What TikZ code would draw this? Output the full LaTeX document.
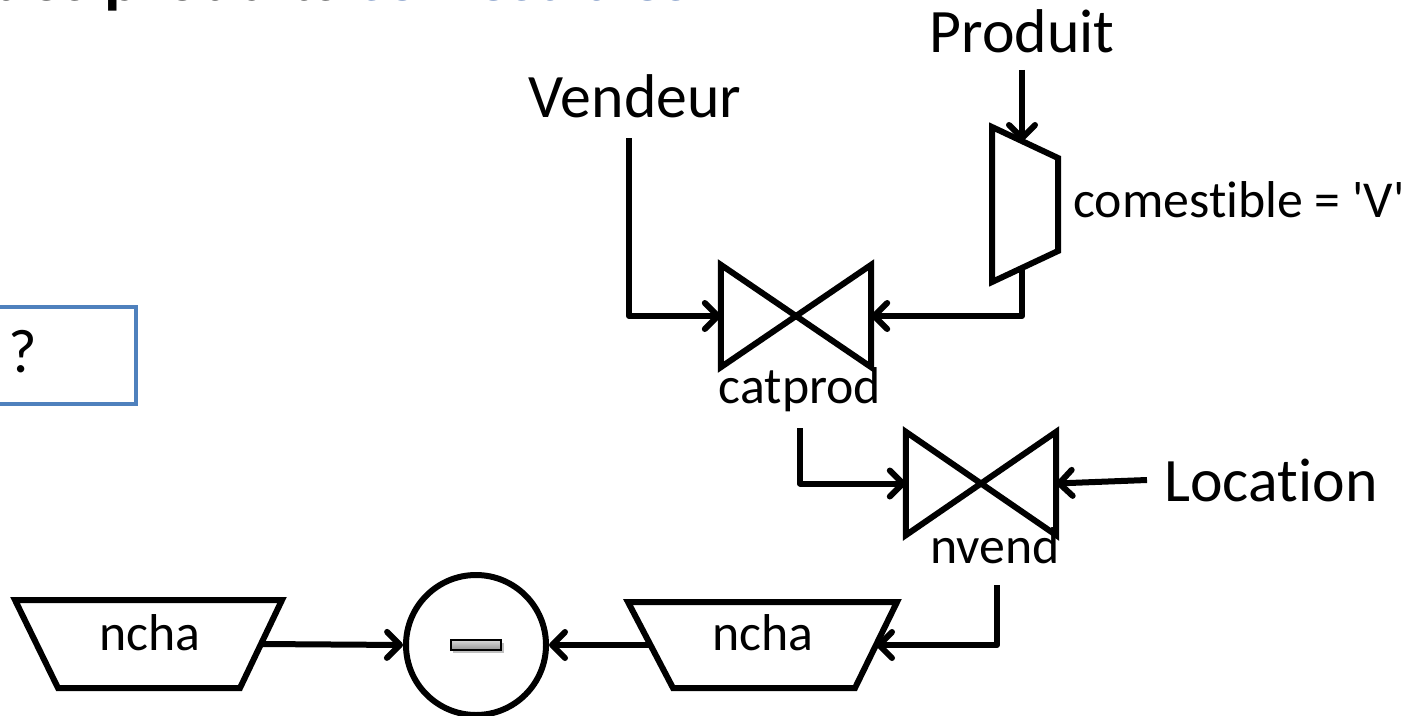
\documentclass[tikz,border=0pt]{standalone}
\usepackage{fontspec}
\setmainfont{Carlito}[Ligatures={NoCommon,TeXOff}]
\usetikzlibrary{arrows.meta,shapes.geometric}
\definecolor{titleblue}{RGB}{55,96,166}
\definecolor{boxblue}{RGB}{79,129,189}
\begin{document}
\begin{tikzpicture}[x=1bp,y=-1bp,
  line/.style={line width=6bp, line join=round},
  arr/.style={line, -{Straight Barb[length=13bp,width=26bp,round]}},
  op/.style={line width=6bp, line join=miter},
  big/.style={font=\fontsize{62}{70}\selectfont, inner sep=0},
  small/.style={font=\fontsize{52}{60}\selectfont, inner sep=0}]
\useasboundingbox (0,0) rectangle (1423,715);
% title (cut off at top)
\begin{scope}
\clip (0,0) rectangle (1423,715);
\node[anchor=base west, inner sep=0, font=\fontsize{68}{74}\selectfont\bfseries] (title) at (-8,1) {des produits \textcolor{titleblue}{comestibles}};
\end{scope}
% question box
\node[draw=boxblue, line width=3.5bp, minimum width=150bp, minimum height=97bp, anchor=north west, inner sep=0] (qbox) at (-16,305) {};
\node[big, anchor=base west] (qmark) at (8,372) {?};
% joins
\node[minimum width=150bp, minimum height=102bp, inner sep=0] (j1) at (796,316) {};
\draw[op] (j1.north west) -- (j1.south west) -- (j1.north east) -- (j1.south east) -- cycle;
\node[minimum width=150bp, minimum height=103bp, inner sep=0] (j2) at (981,483.5) {};
\draw[op] (j2.north west) -- (j2.south west) -- (j2.north east) -- (j2.south east) -- cycle;
% selection
\draw[op] (992,127) -- (1058,158) -- (1058,251) -- (992,282) -- cycle;
\coordinate (selTop) at (1022,141);
\coordinate (selBot) at (1022,268);
% projections
\draw[op] (15,600) -- (282,600) -- (240,688) -- (58,688) -- cycle;
\coordinate (n1e) at (261,644);
\draw[op] (628,602) -- (897,602) -- (855,688) -- (673,688) -- cycle;
\coordinate (n2e) at (876,645);
\coordinate (n2w) at (650,645);
% difference
\node[draw, circle, line width=6bp, minimum size=140bp, inner sep=0] (circ) at (476,645) {};
\fill[black!25] (453,643) rectangle (504,653);
\draw[line width=1.5bp, top color=gray!30, bottom color=gray!85] (451,640) rectangle (501,650);
% labels
\node[big, anchor=base] (produit) at (1022,53) {Produit};
\node[big, anchor=base] (vendeur) at (635,118) {Vendeur};
\node[big, anchor=base] (location) at (1271,501) {Location};
\node[small, anchor=base] (cond) at (1239,217) {comestible = 'V'};
\node[small, anchor=base] (catprod) at (800,403) {catprod};
\node[small, anchor=base] (nvend) at (995,563) {nvend};
\node[small, anchor=base] (ncha1) at (150,650) {ncha};
\node[small, anchor=base] (ncha2) at (763,650) {ncha};
% connector ends
\coordinate (vend) at (629,138);
\coordinate (prod) at (1022,70);
\coordinate (cp) at (800,428);
\coordinate (loc) at (1147,480);
\coordinate (nv) at (997,585);
% connectors
\draw[arr] (vend) |- (j1.west);
\draw[arr] (prod) -- (selTop);
\draw[arr] (selBot) |- (j1.east);
\draw[arr] (cp) |- (j2.west);
\draw[arr] (loc) -- (j2.east);
\draw[arr] (nv) |- (n2e);
\draw[arr] (n2w) -- (circ.east);
\draw[arr] (n1e) -- (circ.west);
\end{tikzpicture}
\end{document}
